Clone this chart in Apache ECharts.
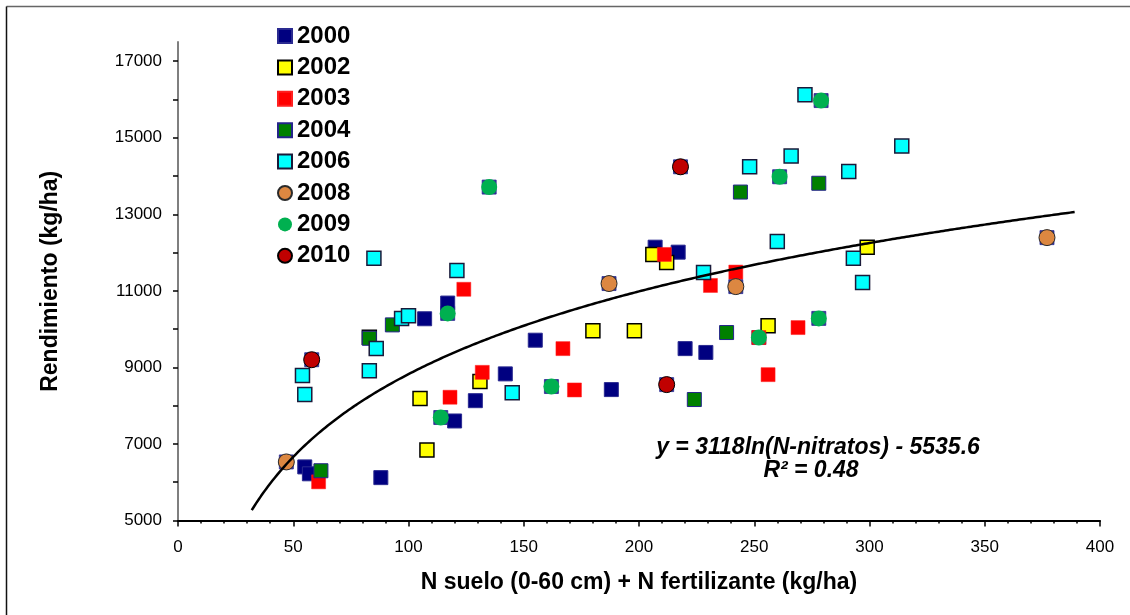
<!DOCTYPE html>
<html>
<head>
<meta charset="utf-8">
<script src="https://cdn.jsdelivr.net/npm/echarts@6/dist/echarts.min.js"></script>
<style>
  html, body { margin: 0; padding: 0; background: #ffffff; }
  #chart { width: 1130px; height: 615px; }
</style>
</head>
<body>
<div id="chart"></div>
<script>
// Yield (kg/ha) against available N (soil 0-60 cm + fertiliser), one series per season.
const FONT = '"Liberation Sans", Arial, Helvetica, sans-serif';

const years = ['2000', '2002', '2003', '2004', '2006', '2008', '2009', '2010'];

// [N available (kg/ha), yield (kg/ha)]
const pts2000 = [[55, 6400], [57, 6220], [88, 6120], [107, 10270], [117, 10680], [120, 7600],
  [129, 8130], [142, 8830], [155, 9710], [188, 8420], [207, 12140], [217, 12010],
  [220, 9490], [229, 9390]];
const pts2002 = [[83, 9790], [105, 8190], [108, 6840], [131, 8630], [180, 9960], [198, 9960],
  [206, 11950], [212, 11740], [256, 10090], [299, 12140]];
const pts2003 = [[61, 6010], [118, 8220], [124, 11040], [132, 8870], [167, 9490], [172, 8410],
  [211, 11950], [231, 11140], [242, 11490], [252, 9780], [256, 8810], [269, 10040]];
const pts2004 = [[62, 6300], [83, 9760], [93, 10110], [224, 8160], [238, 9910], [244, 13580],
  [278, 13810]];
const pts2006 = [[54, 8790], [55, 8290], [83, 8910], [85, 11850], [86, 9490], [97, 10280],
  [100, 10350], [121, 11530], [145, 8340], [228, 11480], [248, 14240], [260, 12290],
  [266, 14520], [272, 16120], [291, 14120], [293, 11850], [297, 11220], [314, 14780]];
const pts2008 = [[47, 6530], [187, 11190], [242, 11110], [377, 12390]];
const pts2009 = [[114, 7690], [117, 10410], [135, 13710], [162, 8500], [252, 9780],
  [261, 13980], [278, 10280], [279, 15970]];
const pts2010 = [[58, 9200], [212, 8550], [218, 14240]];

// Logarithmic fit: y = a ln(x) + b, drawn over the fitted N range
const fitA = 3118;
const fitB = -5535.6;
const fitRange = [32, 389];
const fitLabel = 'y = 3118ln(N-nitratos) - 5535.6';
const r2Label = 'R\u00b2 = 0.48';

// Axis ticks and labels
const xTicks = [0, 50, 100, 150, 200, 250, 300, 350, 400];
const yTickValues = [5000, 6000, 7000, 8000, 9000, 10000, 11000, 12000, 13000, 14000, 15000, 16000, 17000];
const yLabelValues = [5000, 7000, 9000, 11000, 13000, 15000, 17000];

const fitCurve = [];
for (let x = fitRange[0]; x <= fitRange[1]; x += 1) {
  fitCurve.push([x, fitA * Math.log(x) + fitB]);
}

const NAVY = '#000080';

function sq(name, data, color, border, bw) {
  return {
    name, type: 'scatter', data, symbol: 'rect', symbolSize: 14,
    itemStyle: { color, borderColor: border, borderWidth: bw, opacity: 1 },
    emphasis: { disabled: true }
  };
}
function dot(name, data, color, border, bw) {
  return {
    name, type: 'scatter', data, symbol: 'circle', symbolSize: 16,
    itemStyle: { color, borderColor: border, borderWidth: bw, opacity: 1 },
    emphasis: { disabled: true }
  };
}

const chart = echarts.init(document.getElementById('chart'), null, { renderer: 'canvas' });

chart.setOption({
  animation: false,
  backgroundColor: '#ffffff',
  textStyle: { fontFamily: FONT },
  grid: { left: 178, right: 30, top: 42, bottom: 94.5 },
  legend: {
    data: years,
    orient: 'vertical',
    left: 277,
    top: 24,
    padding: 0,
    itemWidth: 14,
    itemHeight: 14,
    itemGap: 7.4,
    selectedMode: false,
    textStyle: { fontFamily: FONT, fontSize: 24, fontWeight: 'bold', color: '#000', lineHeight: 24 }
  },
  xAxis: {
    type: 'value', min: xTicks[0], max: xTicks[xTicks.length - 1], interval: 50,
    name: 'N suelo (0-60 cm) + N fertilizante (kg/ha)',
    nameLocation: 'middle', nameGap: 51,
    nameTextStyle: { fontFamily: FONT, fontSize: 23, fontWeight: 'bold', color: '#000' },
    axisLine: { show: true, onZero: false, lineStyle: { color: '#000', width: 2 } },
    axisTick: { show: true, length: 6, lineStyle: { color: '#000', width: 1.5 } },
    minorTick: { show: true, splitNumber: 5, length: 3, lineStyle: { color: '#000', width: 1.5 } },
    axisLabel: { fontFamily: FONT, fontSize: 17, color: '#000', margin: 18 },
    splitLine: { show: false }
  },
  yAxis: {
    type: 'value', min: 5000, max: 17500,
    name: 'Rendimiento (kg/ha)',
    nameLocation: 'middle', nameGap: 116,
    nameTextStyle: { fontFamily: FONT, fontSize: 23, fontWeight: 'bold', color: '#000' },
    axisLine: { show: true, onZero: false, lineStyle: { color: '#7f7f7f', width: 2 } },
    axisTick: { show: true, length: 5, customValues: yTickValues, lineStyle: { color: '#000', width: 1.5 } },
    axisLabel: {
      fontFamily: FONT, fontSize: 17, color: '#000', margin: 16, customValues: yLabelValues,
      formatter: (v) => String(v)
    },
    splitLine: { show: false }
  },
  series: [
    // navy squares sitting beneath the circle markers
    {
      name: 'base', type: 'scatter', symbol: 'rect', symbolSize: 14,
      data: pts2008.concat(pts2009, pts2010),
      itemStyle: { color: NAVY, borderColor: '#2a2a90', borderWidth: 1 },
      emphasis: { disabled: true }, z: 1
    },
    sq('2000', pts2000, NAVY, '#2a2a90', 1),
    sq('2002', pts2002, '#ffff00', '#000000', 1.5),
    sq('2003', pts2003, '#ff0000', '#ff2020', 0.5),
    sq('2004', pts2004, '#008000', '#24248a', 1),
    sq('2006', pts2006, '#00ffff', '#1a1a3a', 1.5),
    dot('2008', pts2008, '#dc8741', '#2a2a2a', 1),
    dot('2009', pts2009, '#00b050', '#00b050', 0),
    dot('2010', pts2010, '#c00000', '#000000', 1),
    {
      name: 'ajuste', type: 'line', data: fitCurve, showSymbol: false, smooth: false,
      lineStyle: { color: '#000', width: 2.5 }, z: 5, silent: true
    }
  ],
  graphic: [
    // outer chart frame
    { type: 'line', shape: { x1: 6.5, y1: 6.5, x2: 1130, y2: 6.5 }, style: { stroke: '#666', lineWidth: 1.5 } },
    { type: 'line', shape: { x1: 6.5, y1: 6.5, x2: 6.5, y2: 615 }, style: { stroke: '#111', lineWidth: 1.5 } },
    {
      type: 'text', x: 818, y: 448, z: 10,
      style: { text: fitLabel, font: 'italic bold 23px ' + FONT, fill: '#000', align: 'center', verticalAlign: 'middle' }
    },
    {
      type: 'text', x: 811, y: 471, z: 10,
      style: { text: r2Label, font: 'italic bold 23px ' + FONT, fill: '#000', align: 'center', verticalAlign: 'middle' }
    }
  ]
});
</script>
</body>
</html>
